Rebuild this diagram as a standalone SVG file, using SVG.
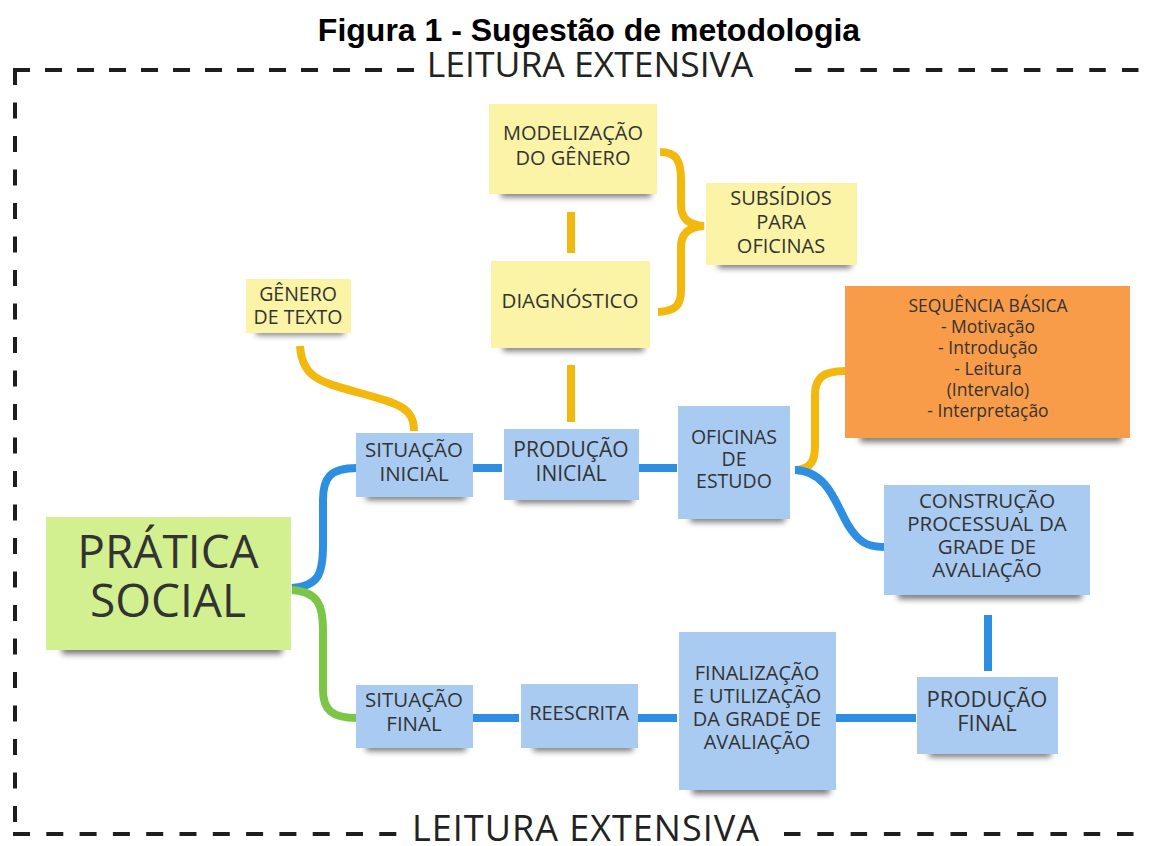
<svg xmlns="http://www.w3.org/2000/svg" width="1150" height="846" viewBox="0 0 1150 846">
<defs>
<filter id="blur" x="-20%" y="-100%" width="140%" height="300%"><feGaussianBlur stdDeviation="3"/></filter>
<style>
.t{font-family:"Open Sans","Liberation Sans",sans-serif;fill:#333;text-anchor:middle}
.sh{fill:#000;opacity:.55;filter:url(#blur)}
.y{fill:#fbf3a6}
.b{fill:#a9cbf2}
.g{fill:#d2f08f}
.o{fill:#f99c49}
.cy{stroke:#f3b80d;stroke-width:8;fill:none}
.cb{stroke:#2e8fe2;stroke-width:8;fill:none}
.cg{stroke:#7bc547;stroke-width:8;fill:none}
.dash{stroke:#1e1e1e;stroke-width:4;fill:none}
.lx{font-family:"Open Sans","Liberation Sans",sans-serif;fill:#222;text-anchor:middle}
</style>
</defs>
<rect width="1150" height="846" fill="#fff"/>
<text x="589" y="41" font-family="Liberation Sans, Arial, sans-serif" font-weight="bold" font-size="32" text-anchor="middle" fill="#000">Figura 1 - Sugestão de metodologia</text>
<g id="frame">
<line class="dash" x1="15" y1="69" x2="15" y2="822" stroke-dasharray="16 17.5"/>
<line class="dash" x1="13" y1="70" x2="416" y2="70" stroke-dasharray="17 15"/>
<line class="dash" x1="795" y1="70" x2="1140" y2="70" stroke-dasharray="16.5 16.2"/>
<line class="dash" x1="13" y1="834" x2="398" y2="834" stroke-dasharray="17 16.3"/>
<line class="dash" x1="784" y1="834" x2="1136" y2="834" stroke-dasharray="16.5 16.8"/>
<text class="lx" x="590" y="77" font-size="35.5">LEITURA EXTENSIVA</text>
<text class="lx" x="586" y="841" font-size="36" letter-spacing="1">LEITURA EXTENSIVA</text>
</g>
<g id="connectors">
<path class="cy" d="M571,212 V253"/>
<path class="cy" d="M571,365 V422"/>
<path class="cy" d="M660,152 C676,152 681,160 681,180 L681,205 C681,218 688,225 704,226 C688,227 681,234 681,247 L681,290 C681,305 676,311 658,312"/>
<path class="cy" d="M300,346 C302,378 320,382 360,393 C400,404 414,408 414,431"/>
<path class="cy" d="M795,470 C812,469 815,460 815,445 L815,395 C815,378 823,371 845,371"/>
<path class="cb" d="M473,468 H502"/>
<path class="cb" d="M639,468 H677"/>
<path class="cb" d="M795,470 C828,471 836,505 848,525 C858,541 866,547 884,547"/>
<path class="cb" d="M988,615 V671"/>
<path class="cb" d="M473,718 H519"/>
<path class="cb" d="M638,718 H677"/>
<path class="cb" d="M836,718 H916"/>
<path class="cb" d="M292,588 C318,586 323,575 323,545 L323,500 C323,478 330,468 357,468"/>
<path class="cg" d="M292,590 C318,592 323,605 323,630 L323,690 C323,710 332,718 357,718"/>
</g>
<g id="modelizacao">
<rect class="sh" x="501" y="189" width="150" height="8"/>
<rect class="y" x="489" y="104" width="168" height="90"/>
<text class="t" font-size="20"><tspan x="573" y="140">MODELIZAÇÃO</tspan><tspan x="573" y="165">DO GÊNERO</tspan></text>
</g>
<g id="diagnostico">
<rect class="sh" x="503" y="343" width="141" height="8"/>
<rect class="y" x="491" y="261" width="159" height="87"/>
<text class="t" font-size="20.5" x="570" y="308">DIAGNÓSTICO</text>
</g>
<g id="subsidios">
<rect class="sh" x="718" y="260" width="133" height="8"/>
<rect class="y" x="706" y="183" width="151" height="82"/>
<text class="t" font-size="20"><tspan x="781" y="205">SUBSÍDIOS</tspan><tspan x="781" y="229">PARA</tspan><tspan x="781" y="253">OFICINAS</tspan></text>
</g>
<g id="genero">
<rect class="sh" x="256" y="328" width="88" height="7"/>
<rect class="y" x="246" y="279" width="105" height="54"/>
<text class="t" font-size="19.5"><tspan x="298" y="301">GÊNERO</tspan><tspan x="298" y="324">DE TEXTO</tspan></text>
</g>
<g id="situacao-inicial">
<rect class="sh" x="366" y="492" width="100" height="8"/>
<rect class="b" x="356" y="433" width="117" height="64"/>
<text class="t" font-size="20.5"><tspan x="414" y="457">SITUAÇÃO</tspan><tspan x="414" y="481">INICIAL</tspan></text>
</g>
<g id="producao-inicial">
<rect class="sh" x="516" y="495" width="117" height="8"/>
<rect class="b" x="504" y="429" width="135" height="71"/>
<text class="t" font-size="21"><tspan x="571" y="457">PRODUÇÃO</tspan><tspan x="571" y="481">INICIAL</tspan></text>
</g>
<g id="oficinas">
<rect class="sh" x="690" y="514" width="95" height="8"/>
<rect class="b" x="678" y="406" width="112" height="113"/>
<text class="t" font-size="19.5"><tspan x="734" y="444">OFICINAS</tspan><tspan x="734" y="466">DE</tspan><tspan x="734" y="488">ESTUDO</tspan></text>
</g>
<g id="sequencia">
<rect class="sh" x="860" y="433" width="262" height="9"/>
<rect class="o" x="845" y="286" width="285" height="152"/>
<text class="t" font-size="17.5"><tspan x="988" y="312">SEQUÊNCIA BÁSICA</tspan><tspan x="988" y="333">- Motivação</tspan><tspan x="988" y="354">- Introdução</tspan><tspan x="988" y="375">- Leitura</tspan><tspan x="988" y="396">(Intervalo)</tspan><tspan x="988" y="417">- Interpretação</tspan></text>
</g>
<g id="construcao">
<rect class="sh" x="898" y="590" width="184" height="9"/>
<rect class="b" x="884" y="485" width="206" height="110"/>
<text class="t" font-size="20.5"><tspan x="987" y="508">CONSTRUÇÃO</tspan><tspan x="987" y="531">PROCESSUAL DA</tspan><tspan x="987" y="554">GRADE DE</tspan><tspan x="987" y="577">AVALIAÇÃO</tspan></text>
</g>
<g id="producao-final">
<rect class="sh" x="929" y="749" width="122" height="8"/>
<rect class="b" x="917" y="677" width="141" height="77"/>
<text class="t" font-size="22"><tspan x="987" y="707">PRODUÇÃO</tspan><tspan x="987" y="731">FINAL</tspan></text>
</g>
<g id="finalizacao">
<rect class="sh" x="692" y="785" width="138" height="9"/>
<rect class="b" x="679" y="632" width="157" height="158"/>
<text class="t" font-size="20"><tspan x="757" y="680">FINALIZAÇÃO</tspan><tspan x="757" y="703">E UTILIZAÇÃO</tspan><tspan x="757" y="726">DA GRADE DE</tspan><tspan x="757" y="749">AVALIAÇÃO</tspan></text>
</g>
<g id="reescrita">
<rect class="sh" x="533" y="743" width="100" height="8"/>
<rect class="b" x="521" y="684" width="117" height="64"/>
<text class="t" font-size="20" x="579" y="720">REESCRITA</text>
</g>
<g id="situacao-final">
<rect class="sh" x="366" y="743" width="100" height="8"/>
<rect class="b" x="356" y="685" width="117" height="63"/>
<text class="t" font-size="20.5"><tspan x="414" y="707">SITUAÇÃO</tspan><tspan x="414" y="731">FINAL</tspan></text>
</g>
<g id="pratica-social">
<rect class="sh" x="62" y="644" width="220" height="10"/>
<rect class="g" x="46" y="517" width="245" height="133"/>
<text class="t" font-size="46" fill="#222"><tspan x="168" y="568">PRÁTICA</tspan><tspan x="168" y="617">SOCIAL</tspan></text>
</g>
</svg>
